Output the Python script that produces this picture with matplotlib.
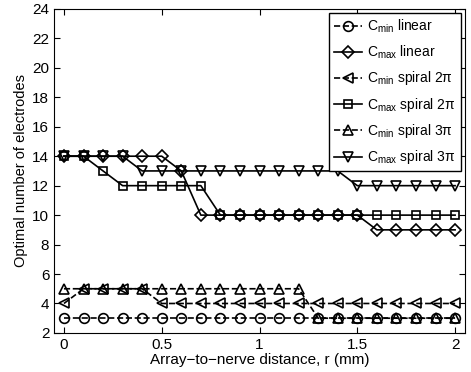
import numpy as np
from matplotlib import pyplot as plt

plt.rcParams['font.family'] = ['Liberation Sans', 'DejaVu Sans']
plt.rcParams['mathtext.default'] = 'regular'

r = [0, 0.1, 0.2, 0.3, 0.4, 0.5, 0.6, 0.7, 0.8, 0.9, 1.0,
     1.1, 1.2, 1.3, 1.4, 1.5, 1.6, 1.7, 1.8, 1.9, 2.0]

cmin_linear = [3]*21
cmax_linear = [14, 14, 14, 14, 14, 14, 13, 10, 10, 10, 10,
               10, 10, 10, 10, 10, 9, 9, 9, 9, 9]
cmin_sp2 = [4, 5, 5, 5, 5, 4, 4, 4, 4, 4, 4,
            4, 4, 4, 4, 4, 4, 4, 4, 4, 4]
cmax_sp2 = [14, 14, 13, 12, 12, 12, 12, 12, 10, 10, 10,
            10, 10, 10, 10, 10, 10, 10, 10, 10, 10]
cmin_sp3 = [5, 5, 5, 5, 5, 5, 5, 5, 5, 5, 5,
            5, 5, 3, 3, 3, 3, 3, 3, 3, 3]
cmax_sp3 = [14, 14, 14, 14, 13, 13, 13, 13, 13, 13, 13,
            13, 13, 13, 13, 12, 12, 12, 12, 12, 12]

fig = plt.figure(figsize=(4.71, 3.72), dpi=100)
ax = fig.add_axes([0.115, 0.105, 0.872, 0.871])

kw = dict(color='k', lw=1.2, ms=7, fillstyle='none', mew=1.2)
ax.plot(r, cmin_linear, '--o', label='C$_{min}$ linear', **kw)
ax.plot(r, cmax_linear, '-D', label='C$_{max}$ linear', **{**kw, 'ms': 6.5})
ax.plot(r, cmin_sp2, '--<', label='C$_{min}$ spiral 2π', **kw)
ax.plot(r, cmax_sp2, '-s', label='C$_{max}$ spiral 2π', **{**kw, 'ms': 6})
ax.plot(r, cmin_sp3, '--^', label='C$_{min}$ spiral 3π', **kw)
ax.plot(r, cmax_sp3, '-v', label='C$_{max}$ spiral 3π', **kw)

ax.set_xlim(-0.05, 2.05)
ax.set_ylim(2, 24)
ax.set_xticks([0, 0.5, 1, 1.5, 2])
ax.set_xticklabels(['0', '0.5', '1', '1.5', '2'])
ax.set_yticks(np.arange(2, 25, 2))
ax.tick_params(direction='in', top=True, right=True, labelsize=11, length=4)
ax.set_xlabel('Array\u2212to\u2212nerve distance, r (mm)', fontsize=11, labelpad=1)
ax.set_ylabel('Optimal number of electrodes', fontsize=10.5, labelpad=3)

leg = ax.legend(loc='upper right', fontsize=10, handlelength=2.0, handletextpad=0.4,
                labelspacing=0.6, borderpad=0.35, fancybox=False, framealpha=1,
                edgecolor='k', borderaxespad=0.3)
leg.get_frame().set_linewidth(1)

fig.savefig('out.png', dpi=100)
